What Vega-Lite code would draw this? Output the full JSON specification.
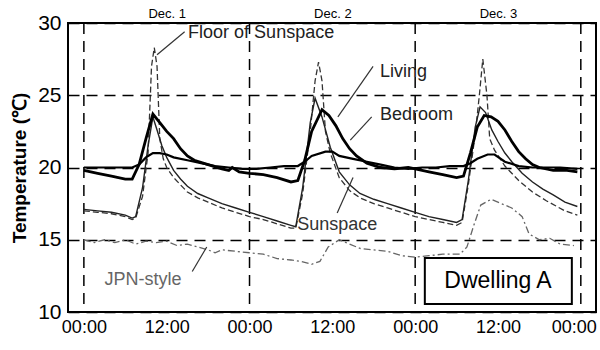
{
  "$schema": "https://vega.github.io/schema/vega-lite/v6.json",
  "width": 528,
  "height": 289,
  "autosize": {"type": "none"},
  "padding": {"left": 68, "top": 23, "right": 4, "bottom": 38},
  "background": "white",
  "config": {
    "view": {"stroke": "black", "strokeWidth": 2},
    "font": "Liberation Sans",
    "axis": {"labelFont": "Liberation Sans", "titleFont": "Liberation Sans", "labelColor": "black", "titleColor": "black"}
  },
  "datasets": {
    "temps": [
      {"s":"Living","h":0,"T":19.8},{"s":"Living","h":2,"T":19.6},{"s":"Living","h":4,"T":19.4},{"s":"Living","h":6,"T":19.2},{"s":"Living","h":7,"T":19.2},{"s":"Living","h":8,"T":20.2},{"s":"Living","h":9,"T":22.0},{"s":"Living","h":10,"T":23.7},{"s":"Living","h":11,"T":23.1},{"s":"Living","h":12,"T":22.5},{"s":"Living","h":13,"T":22.0},{"s":"Living","h":14,"T":21.3},{"s":"Living","h":15,"T":20.8},{"s":"Living","h":16,"T":20.5},{"s":"Living","h":18,"T":20.2},{"s":"Living","h":20,"T":19.9},{"s":"Living","h":21,"T":19.8},{"s":"Living","h":21.5,"T":20.0},{"s":"Living","h":22.5,"T":19.7},{"s":"Living","h":24,"T":19.6},{"s":"Living","h":26,"T":19.5},{"s":"Living","h":28,"T":19.3},{"s":"Living","h":30,"T":19.0},{"s":"Living","h":31,"T":19.1},{"s":"Living","h":32,"T":20.5},{"s":"Living","h":33,"T":22.5},{"s":"Living","h":34.5,"T":24.0},{"s":"Living","h":35.5,"T":23.6},{"s":"Living","h":36.5,"T":22.9},{"s":"Living","h":37.5,"T":22.0},{"s":"Living","h":38.5,"T":21.3},{"s":"Living","h":39.5,"T":20.8},{"s":"Living","h":41,"T":20.3},{"s":"Living","h":43,"T":20.0},{"s":"Living","h":45,"T":19.9},{"s":"Living","h":47,"T":20.0},{"s":"Living","h":48,"T":19.9},{"s":"Living","h":50,"T":19.7},{"s":"Living","h":52,"T":19.5},{"s":"Living","h":54,"T":19.3},{"s":"Living","h":55,"T":19.4},{"s":"Living","h":56,"T":21.0},{"s":"Living","h":57,"T":22.8},{"s":"Living","h":58,"T":23.6},{"s":"Living","h":59,"T":23.5},{"s":"Living","h":60,"T":23.2},{"s":"Living","h":61,"T":22.6},{"s":"Living","h":62,"T":21.8},{"s":"Living","h":63,"T":21.1},{"s":"Living","h":64,"T":20.6},{"s":"Living","h":65,"T":20.2},{"s":"Living","h":66,"T":20.0},{"s":"Living","h":68,"T":19.8},{"s":"Living","h":70,"T":19.8},{"s":"Living","h":71.5,"T":19.7},
      {"s":"Bedroom","h":0,"T":20.0},{"s":"Bedroom","h":2,"T":20.0},{"s":"Bedroom","h":4,"T":20.0},{"s":"Bedroom","h":6,"T":20.0},{"s":"Bedroom","h":7,"T":20.0},{"s":"Bedroom","h":8,"T":20.2},{"s":"Bedroom","h":9,"T":20.7},{"s":"Bedroom","h":10,"T":21.0},{"s":"Bedroom","h":11,"T":21.0},{"s":"Bedroom","h":12,"T":20.9},{"s":"Bedroom","h":13,"T":20.7},{"s":"Bedroom","h":15,"T":20.5},{"s":"Bedroom","h":17,"T":20.3},{"s":"Bedroom","h":19,"T":20.1},{"s":"Bedroom","h":21,"T":20.0},{"s":"Bedroom","h":23,"T":19.9},{"s":"Bedroom","h":25,"T":19.9},{"s":"Bedroom","h":27,"T":20.0},{"s":"Bedroom","h":29,"T":20.1},{"s":"Bedroom","h":31,"T":20.1},{"s":"Bedroom","h":32,"T":20.4},{"s":"Bedroom","h":33,"T":20.8},{"s":"Bedroom","h":35,"T":21.1},{"s":"Bedroom","h":36,"T":21.1},{"s":"Bedroom","h":37,"T":20.8},{"s":"Bedroom","h":39,"T":20.6},{"s":"Bedroom","h":41,"T":20.4},{"s":"Bedroom","h":43,"T":20.2},{"s":"Bedroom","h":45,"T":20.0},{"s":"Bedroom","h":47,"T":19.9},{"s":"Bedroom","h":49,"T":20.0},{"s":"Bedroom","h":51,"T":20.0},{"s":"Bedroom","h":53,"T":20.1},{"s":"Bedroom","h":55,"T":20.1},{"s":"Bedroom","h":56,"T":20.3},{"s":"Bedroom","h":57,"T":20.6},{"s":"Bedroom","h":58.5,"T":20.9},{"s":"Bedroom","h":59.5,"T":20.9},{"s":"Bedroom","h":61,"T":20.4},{"s":"Bedroom","h":63,"T":20.1},{"s":"Bedroom","h":65,"T":20.0},{"s":"Bedroom","h":67,"T":20.0},{"s":"Bedroom","h":69,"T":20.0},{"s":"Bedroom","h":71.5,"T":19.9},
      {"s":"Sunspace","h":0,"T":17.1},{"s":"Sunspace","h":2,"T":17.0},{"s":"Sunspace","h":4,"T":16.9},{"s":"Sunspace","h":6,"T":16.7},{"s":"Sunspace","h":7,"T":16.5},{"s":"Sunspace","h":7.5,"T":16.6},{"s":"Sunspace","h":8.5,"T":18.6},{"s":"Sunspace","h":9.3,"T":21.5},{"s":"Sunspace","h":10,"T":23.5},{"s":"Sunspace","h":10.6,"T":22.6},{"s":"Sunspace","h":11.3,"T":21.5},{"s":"Sunspace","h":12,"T":20.7},{"s":"Sunspace","h":13,"T":19.8},{"s":"Sunspace","h":14,"T":19.2},{"s":"Sunspace","h":15,"T":18.7},{"s":"Sunspace","h":16.5,"T":18.2},{"s":"Sunspace","h":18,"T":17.9},{"s":"Sunspace","h":20,"T":17.5},{"s":"Sunspace","h":22,"T":17.2},{"s":"Sunspace","h":24,"T":16.9},{"s":"Sunspace","h":26,"T":16.6},{"s":"Sunspace","h":28,"T":16.3},{"s":"Sunspace","h":30,"T":16.0},{"s":"Sunspace","h":30.7,"T":15.9},{"s":"Sunspace","h":31.7,"T":18.6},{"s":"Sunspace","h":32.8,"T":23.1},{"s":"Sunspace","h":33.5,"T":24.8},{"s":"Sunspace","h":34.5,"T":23.5},{"s":"Sunspace","h":35.7,"T":21.4},{"s":"Sunspace","h":37,"T":19.7},{"s":"Sunspace","h":38.5,"T":18.8},{"s":"Sunspace","h":40,"T":18.2},{"s":"Sunspace","h":42,"T":17.8},{"s":"Sunspace","h":44,"T":17.5},{"s":"Sunspace","h":46,"T":17.2},{"s":"Sunspace","h":48,"T":16.9},{"s":"Sunspace","h":50,"T":16.6},{"s":"Sunspace","h":52,"T":16.4},{"s":"Sunspace","h":54,"T":16.2},{"s":"Sunspace","h":54.8,"T":16.4},{"s":"Sunspace","h":55.7,"T":19.1},{"s":"Sunspace","h":56.7,"T":22.8},{"s":"Sunspace","h":57.4,"T":24.2},{"s":"Sunspace","h":58.2,"T":23.8},{"s":"Sunspace","h":59.1,"T":22.6},{"s":"Sunspace","h":60,"T":21.8},{"s":"Sunspace","h":61,"T":21.0},{"s":"Sunspace","h":62,"T":20.4},{"s":"Sunspace","h":63.5,"T":19.6},{"s":"Sunspace","h":65,"T":19.0},{"s":"Sunspace","h":66.5,"T":18.5},{"s":"Sunspace","h":68,"T":18.1},{"s":"Sunspace","h":69.7,"T":17.6},{"s":"Sunspace","h":71.5,"T":17.3},
      {"s":"Floor","h":0,"T":17.0},{"s":"Floor","h":2,"T":16.9},{"s":"Floor","h":4,"T":16.8},{"s":"Floor","h":6,"T":16.6},{"s":"Floor","h":7,"T":16.4},{"s":"Floor","h":7.5,"T":16.5},{"s":"Floor","h":8.5,"T":18.0},{"s":"Floor","h":9.3,"T":21.0},{"s":"Floor","h":9.8,"T":27.0},{"s":"Floor","h":10.2,"T":28.3},{"s":"Floor","h":10.6,"T":27.0},{"s":"Floor","h":11.0,"T":22.0},{"s":"Floor","h":11.5,"T":20.6},{"s":"Floor","h":12,"T":20.0},{"s":"Floor","h":13,"T":19.3},{"s":"Floor","h":14,"T":18.8},{"s":"Floor","h":15,"T":18.3},{"s":"Floor","h":16.5,"T":17.9},{"s":"Floor","h":18,"T":17.6},{"s":"Floor","h":20,"T":17.2},{"s":"Floor","h":22,"T":16.9},{"s":"Floor","h":24,"T":16.6},{"s":"Floor","h":26,"T":16.4},{"s":"Floor","h":28,"T":16.1},{"s":"Floor","h":30,"T":15.8},{"s":"Floor","h":30.7,"T":15.8},{"s":"Floor","h":31.7,"T":18.2},{"s":"Floor","h":32.8,"T":22.5},{"s":"Floor","h":33.5,"T":26.0},{"s":"Floor","h":34,"T":27.3},{"s":"Floor","h":34.5,"T":26.0},{"s":"Floor","h":35,"T":22.5},{"s":"Floor","h":35.7,"T":21.0},{"s":"Floor","h":37,"T":19.3},{"s":"Floor","h":38.5,"T":18.4},{"s":"Floor","h":40,"T":17.9},{"s":"Floor","h":42,"T":17.5},{"s":"Floor","h":44,"T":17.2},{"s":"Floor","h":46,"T":16.9},{"s":"Floor","h":48,"T":16.6},{"s":"Floor","h":50,"T":16.4},{"s":"Floor","h":52,"T":16.2},{"s":"Floor","h":54,"T":16.0},{"s":"Floor","h":54.8,"T":16.2},{"s":"Floor","h":55.7,"T":18.8},{"s":"Floor","h":56.7,"T":22.3},{"s":"Floor","h":57.3,"T":25.0},{"s":"Floor","h":57.8,"T":27.5},{"s":"Floor","h":58.4,"T":25.0},{"s":"Floor","h":58.8,"T":22.0},{"s":"Floor","h":59.5,"T":21.2},{"s":"Floor","h":61,"T":20.1},{"s":"Floor","h":63,"T":19.1},{"s":"Floor","h":65,"T":18.3},{"s":"Floor","h":67,"T":17.7},{"s":"Floor","h":69.7,"T":17.0},{"s":"Floor","h":71.5,"T":16.7},
      {"s":"JPN","h":0,"T":15.0},{"s":"JPN","h":1.5,"T":14.8},{"s":"JPN","h":3,"T":15.0},{"s":"JPN","h":4.5,"T":14.8},{"s":"JPN","h":6,"T":15.0},{"s":"JPN","h":7.5,"T":14.7},{"s":"JPN","h":9,"T":14.9},{"s":"JPN","h":10.5,"T":14.8},{"s":"JPN","h":12,"T":14.9},{"s":"JPN","h":13.5,"T":14.6},{"s":"JPN","h":15,"T":14.7},{"s":"JPN","h":16.5,"T":14.5},{"s":"JPN","h":18,"T":14.3},{"s":"JPN","h":19,"T":14.1},{"s":"JPN","h":20,"T":14.3},{"s":"JPN","h":22,"T":14.2},{"s":"JPN","h":24,"T":14.1},{"s":"JPN","h":26,"T":14.0},{"s":"JPN","h":28,"T":13.7},{"s":"JPN","h":30,"T":13.6},{"s":"JPN","h":31.5,"T":13.5},{"s":"JPN","h":33,"T":13.3},{"s":"JPN","h":34.2,"T":13.5},{"s":"JPN","h":35.4,"T":14.5},{"s":"JPN","h":37,"T":15.0},{"s":"JPN","h":38.5,"T":14.7},{"s":"JPN","h":40,"T":14.4},{"s":"JPN","h":42,"T":14.3},{"s":"JPN","h":44,"T":14.2},{"s":"JPN","h":46,"T":13.9},{"s":"JPN","h":48,"T":13.8},{"s":"JPN","h":50,"T":13.9},{"s":"JPN","h":52,"T":14.0},{"s":"JPN","h":54.5,"T":14.0},{"s":"JPN","h":55.5,"T":14.5},{"s":"JPN","h":56.5,"T":16.0},{"s":"JPN","h":57.5,"T":17.4},{"s":"JPN","h":59,"T":17.8},{"s":"JPN","h":60.5,"T":17.5},{"s":"JPN","h":62,"T":17.2},{"s":"JPN","h":63.5,"T":16.6},{"s":"JPN","h":64.5,"T":15.4},{"s":"JPN","h":66,"T":15.0},{"s":"JPN","h":67.5,"T":15.1},{"s":"JPN","h":69,"T":14.7},{"s":"JPN","h":71,"T":14.6}
    ],
    "labels": [
      {"t":"Floor of Sunspace","h":15.1,"T":29.3,"c":"#222222"},
      {"t":"Living","h":42.9,"T":26.6,"c":"#222222"},
      {"t":"Bedroom","h":42.9,"T":23.6,"c":"#222222"},
      {"t":"Sunspace","h":30.9,"T":16.0,"c":"#333333"},
      {"t":"JPN-style","h":3.0,"T":12.2,"c":"#666666"}
    ],
    "leaders": [
      {"h":14.6,"T":29.4,"h2":10.6,"T2":27.8},
      {"h":41.9,"T":27.0,"h2":36.8,"T2":23.5},
      {"h":41.7,"T":23.5,"h2":38.6,"T2":21.9},
      {"h":36.7,"T":16.85,"h2":39.0,"T2":19.3},
      {"h":15.7,"T":12.8,"h2":17.8,"T2":14.5}
    ]
  },
  "layer": [
    {
      "data": {"values": [{"h":0},{"h":24},{"h":48},{"h":72}]},
      "mark": {"type": "rule", "color": "black", "strokeWidth": 1.5, "strokeDash": [11, 7]},
      "encoding": {
        "x": {"field": "h", "type": "quantitative", "scale": {"domain": [-2.3, 74.2], "nice": false, "zero": false},
          "axis": {"orient": "bottom", "values": [0, 12, 24, 36, 48, 60, 72], "labelExpr": "datum.value % 24 == 0 ? '00:00' : '12:00'", "labelFontSize": 18, "ticks": false, "domain": false, "grid": false, "labelPadding": 6, "title": null, "labelFlush": false,
            "labelOffset": {"condition": {"test": "datum.value == 72", "value": -7}, "value": 0}}}
      }
    },
    {
      "data": {"values": [{"h":12,"d":"Dec. 1"},{"h":36,"d":"Dec. 2"},{"h":60,"d":"Dec. 3"}]},
      "mark": {"type": "rule", "opacity": 0},
      "encoding": {
        "x": {"field": "h", "type": "quantitative",
          "axis": {"orient": "top", "values": [12, 36, 60], "labelExpr": "datum.value == 12 ? 'Dec. 1' : (datum.value == 36 ? 'Dec. 2' : 'Dec. 3')", "labelFontSize": 13, "ticks": false, "domain": false, "grid": false, "labelPadding": 3, "title": null}}
      }
    },
    {
      "data": {"name": "temps"},
      "transform": [{"filter": "datum.s == 'JPN'"}],
      "mark": {"type": "line", "color": "#666666", "strokeWidth": 1.3, "strokeDash": [7, 3, 2, 3]},
      "encoding": {
        "x": {"field": "h", "type": "quantitative", "axis": null},
        "y": {"field": "T", "type": "quantitative", "title": "Temperature (℃)", "scale": {"domain": [10, 30], "nice": false, "zero": false},
          "axis": {"values": [10, 15, 20, 25, 30], "labelFontSize": 21, "grid": true, "gridDash": [11, 7], "gridColor": "black", "gridWidth": 1.5, "gridOpacity": 1, "ticks": false, "domain": false, "labelPadding": 7, "titleFontSize": 19, "titleFontWeight": "bold", "titlePadding": 8}}
      }
    },
    {
      "data": {"name": "temps"},
      "transform": [{"filter": "datum.s == 'Floor'"}],
      "mark": {"type": "line", "color": "#333333", "strokeWidth": 1.3, "strokeDash": [6, 3]},
      "encoding": {
        "x": {"field": "h", "type": "quantitative", "axis": null},
        "y": {"field": "T", "type": "quantitative", "title": "Temperature (℃)"}
      }
    },
    {
      "data": {"name": "temps"},
      "transform": [{"filter": "datum.s == 'Sunspace'"}],
      "mark": {"type": "line", "color": "#222222", "strokeWidth": 1.4},
      "encoding": {
        "x": {"field": "h", "type": "quantitative", "axis": null},
        "y": {"field": "T", "type": "quantitative", "title": "Temperature (℃)"}
      }
    },
    {
      "data": {"name": "temps"},
      "transform": [{"filter": "datum.s == 'Bedroom'"}],
      "mark": {"type": "line", "color": "black", "strokeWidth": 2.2},
      "encoding": {
        "x": {"field": "h", "type": "quantitative", "axis": null},
        "y": {"field": "T", "type": "quantitative", "title": "Temperature (℃)"}
      }
    },
    {
      "data": {"name": "temps"},
      "transform": [{"filter": "datum.s == 'Living'"}],
      "mark": {"type": "line", "color": "black", "strokeWidth": 2.8},
      "encoding": {
        "x": {"field": "h", "type": "quantitative", "axis": null},
        "y": {"field": "T", "type": "quantitative", "title": "Temperature (℃)"}
      }
    },
    {
      "data": {"name": "leaders"},
      "mark": {"type": "rule", "color": "#333333", "strokeWidth": 1.2},
      "encoding": {
        "x": {"field": "h", "type": "quantitative", "axis": null},
        "y": {"field": "T", "type": "quantitative", "title": "Temperature (℃)"},
        "x2": {"field": "h2"},
        "y2": {"field": "T2"}
      }
    },
    {
      "data": {"name": "labels"},
      "mark": {"type": "text", "align": "left", "baseline": "middle", "fontSize": 18, "font": "Liberation Sans"},
      "encoding": {
        "x": {"field": "h", "type": "quantitative", "axis": null},
        "y": {"field": "T", "type": "quantitative", "title": "Temperature (℃)"},
        "text": {"field": "t"},
        "color": {"field": "c", "type": "nominal", "scale": null}
      }
    },
    {
      "data": {"values": [{"h": 49.4, "h2": 70.7, "T": 10.55, "T2": 13.74}]},
      "mark": {"type": "rect", "fill": "white", "stroke": "black", "strokeWidth": 2},
      "encoding": {
        "x": {"field": "h", "type": "quantitative", "axis": null},
        "x2": {"field": "h2"},
        "y": {"field": "T", "type": "quantitative", "title": "Temperature (℃)"},
        "y2": {"field": "T2"}
      }
    },
    {
      "data": {"values": [{"h": 60.0, "T": 12.15, "t": "Dwelling A"}]},
      "mark": {"type": "text", "align": "center", "baseline": "middle", "fontSize": 23, "font": "Liberation Sans", "color": "black"},
      "encoding": {
        "x": {"field": "h", "type": "quantitative", "axis": null},
        "y": {"field": "T", "type": "quantitative", "title": "Temperature (℃)"},
        "text": {"field": "t"}
      }
    }
  ],
  "resolve": {"axis": {"x": "independent"}}
}
